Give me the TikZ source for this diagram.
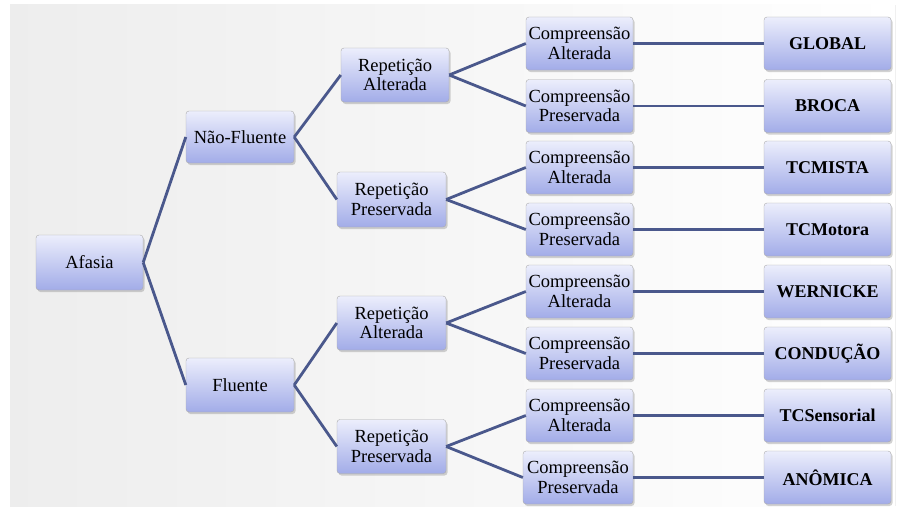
\documentclass[tikz,border=0pt]{standalone}
\usepackage{fontspec}
\setmainfont{Liberation Serif}
\usetikzlibrary{shadows}

\definecolor{caixatopo}{RGB}{236,238,252}
\definecolor{caixabase}{RGB}{162,172,232}
\definecolor{ligacao}{RGB}{74,88,140}

\begin{document}
\begin{tikzpicture}[x=1pt,y=-1pt,
    caixa/.style={draw=gray!65, rounded corners=3pt, top color=caixatopo, bottom color=caixabase,
        drop shadow={shadow xshift=1.5pt, shadow yshift=-2pt, opacity=0.35},
        align=center, inner sep=0pt, font=\fontsize{18.5}{19.5}\selectfont},
    tipo/.style={caixa, minimum width=127, minimum height=53, font=\fontsize{18}{20}\selectfont\bfseries},
    comp/.style={caixa, minimum width=107, minimum height=53},
    ramo/.style={draw=ligacao, line width=2.8pt}]

    % Define the background
    \useasboundingbox (0,0) rectangle (907,511);
    \fill[left color=gray!14, middle color=white, right color=white] (10,5) rectangle (895,506);
    \draw[gray!12, line width=1pt] (895,5) -- (895,506);

    % Place the boxes
    \node[caixa, minimum width=107, minimum height=55] (afasia) at (89.5,262.5) {Afasia};
    \node[caixa, minimum width=108, minimum height=52] (naoflu) at (240,137) {Não-Fluente};
    \node[caixa, minimum width=108, minimum height=54] (flu) at (240,385) {Fluente};

    \node[caixa, minimum width=108, minimum height=54] (repalt1) at (395,75) {Repetição\\Alterada};
    \node[caixa, minimum width=109, minimum height=55] (reppre1) at (391.5,199.5) {Repetição\\Preservada};
    \node[caixa, minimum width=109, minimum height=54] (repalt2) at (391.5,323) {Repetição\\Alterada};
    \node[caixa, minimum width=109, minimum height=54] (reppre2) at (391.5,446.5) {Repetição\\Preservada};

    \node[comp] (comp1) at (579.5,43.5) {Compreensão\\Alterada};
    \node[comp] (comp2) at (579.5,106) {Compreensão\\Preservada};
    \node[comp] (comp3) at (579.5,167.5) {Compreensão\\Alterada};
    \node[comp] (comp4) at (579.5,229.5) {Compreensão\\Preservada};
    \node[comp] (comp5) at (579.5,291.5) {Compreensão\\Alterada};
    \node[comp] (comp6) at (579.5,353.5) {Compreensão\\Preservada};
    \node[comp] (comp7) at (579.5,415.5) {Compreensão\\Alterada};
    \node[comp, minimum width=110] (comp8) at (578,477.5) {Compreensão\\Preservada};

    \node[tipo] (global) at (827.5,43.5) {GLOBAL};
    \node[tipo] (broca) at (827.5,106) {BROCA};
    \node[tipo] (tcmista) at (827.5,167.5) {TCMISTA};
    \node[tipo] (tcmotora) at (827.5,229.5) {TCMotora};
    \node[tipo] (wernicke) at (827.5,291.5) {WERNICKE};
    \node[tipo] (conducao) at (827.5,353.5) {CONDUÇÃO};
    \node[tipo] (tcsensorial) at (827.5,415.5) {TCSensorial};
    \node[tipo] (anomica) at (827.5,477.5) {ANÔMICA};

    % Draw the branches
    \draw[ramo] (afasia.east) -- (naoflu.west);
    \draw[ramo] (afasia.east) -- (flu.west);
    \draw[ramo] (naoflu.east) -- (repalt1.west);
    \draw[ramo] (naoflu.east) -- (reppre1.west);
    \draw[ramo] (flu.east) -- (repalt2.west);
    \draw[ramo] (flu.east) -- (reppre2.west);
    \draw[ramo] (repalt1.east) -- (comp1.west);
    \draw[ramo] (repalt1.east) -- (comp2.west);
    \draw[ramo] (reppre1.east) -- (comp3.west);
    \draw[ramo] (reppre1.east) -- (comp4.west);
    \draw[ramo] (repalt2.east) -- (comp5.west);
    \draw[ramo] (repalt2.east) -- (comp6.west);
    \draw[ramo] (reppre2.east) -- (comp7.west);
    \draw[ramo] (reppre2.east) -- (comp8.west);

    \draw[ramo] (comp1) -- (global);
    \draw[ramo] (comp2) -- (broca);
    \draw[ramo] (comp3) -- (tcmista);
    \draw[ramo] (comp4) -- (tcmotora);
    \draw[ramo] (comp5) -- (wernicke);
    \draw[ramo] (comp6) -- (conducao);
    \draw[ramo] (comp7) -- (tcsensorial);
    \draw[ramo] (comp8) -- (anomica);

\end{tikzpicture}
\end{document}
